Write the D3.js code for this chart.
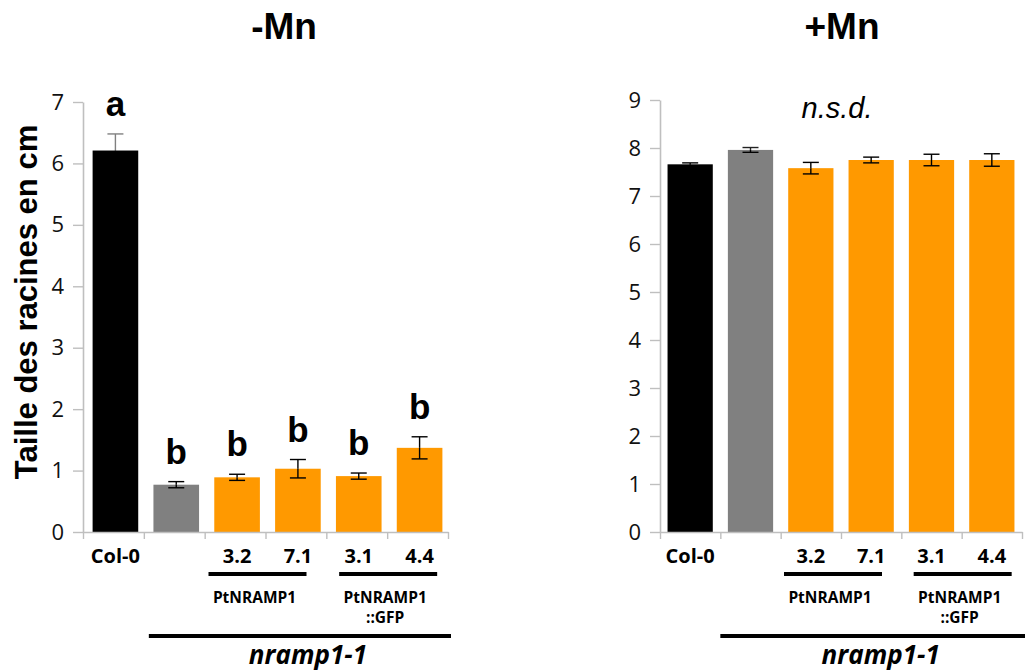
<!DOCTYPE html>
<html>
<head>
<meta charset="utf-8">
<script src="https://cdn.jsdelivr.net/npm/d3@7"></script>
<style>
  html, body { margin: 0; padding: 0; background: #fff; }
  svg { display: block; }
</style>
</head>
<body>
<svg id="chart" width="1032" height="671"></svg>
<script>
// ---------- data ----------
const categories = ["Col-0", "nramp1-1", "3.2", "7.1", "3.1", "4.4"];
const categoryLabels = ["Col-0", "", "3.2", "7.1", "3.1", "4.4"];
const barColors = ["#000000", "#808080", "#FF9900", "#FF9900", "#FF9900", "#FF9900"];

const minusMnMeans = [6.21, 0.77, 0.89, 1.03, 0.91, 1.37];
const minusMnErr   = [0.27, 0.05, 0.05, 0.15, 0.05, 0.18];
const minusMnLetters = ["a", "b", "b", "b", "b", "b"];
const minusMnErrColors = ["#808080", "#000", "#000", "#000", "#000", "#000"];
const minusMnTicks = [0, 1, 2, 3, 4, 5, 6, 7];

const plusMnMeans = [7.66, 7.96, 7.58, 7.75, 7.75, 7.75];
const plusMnErr   = [0.03, 0.05, 0.12, 0.06, 0.12, 0.13];
const plusMnErrColors = ["#000", "#222", "#000", "#000", "#000", "#000"];
const plusMnTicks = [0, 1, 2, 3, 4, 5, 6, 7, 8, 9];

const groupLabels = [
  { lines: ["PtNRAMP1"], cats: ["3.2", "7.1"], shift: -4 },
  { lines: ["PtNRAMP1", "::GFP"], cats: ["3.1", "4.4"], shift: 5 }
];
const mutantLabel = "nramp1-1";
const yTitle = "Taille des racines en cm";

// ---------- drawing ----------
const svg = d3.select("#chart");
svg.append("rect").attr("width", 1032).attr("height", 671).attr("fill", "#fff");

const CAL = "'Open Sans', 'Liberation Sans', sans-serif";
const ARIAL = "'Liberation Sans', Arial, sans-serif";
const axisColor = "#bfbfbf";

function drawPanel(cfg) {
  const g = svg.append("g");
  const y = d3.scaleLinear().domain([0, d3.max(cfg.ticks)]).range([532, cfg.yTop]);
  const x = d3.scaleBand().domain(categories).range(cfg.xRange)
    .paddingInner(0.25).paddingOuter(0.125);
  const bw = x.bandwidth();
  const cx = c => x(c) + bw / 2;

  // y axis
  const yAxis = g.append("g").attr("transform", `translate(${cfg.xRange[0]},0)`)
    .call(d3.axisLeft(y).tickValues(cfg.ticks).tickFormat(d3.format("d"))
      .tickSize(10).tickSizeOuter(0).tickPadding(9));
  yAxis.select(".domain").attr("stroke", axisColor).attr("stroke-width", 1.6);
  yAxis.selectAll(".tick line").attr("stroke", axisColor).attr("stroke-width", 1.4);
  yAxis.selectAll(".tick text").attr("font-family", CAL).attr("font-size", 22)
    .attr("fill", "#111");

  // bars
  const data = categories.map((c, i) => ({ c, v: cfg.means[i], e: cfg.err[i], col: barColors[i], ec: cfg.errColors[i], i }));
  g.selectAll("rect.bar").data(data).join("rect").attr("class", "bar")
    .attr("x", d => x(d.c) + cfg.barShift).attr("width", bw)
    .attr("y", d => y(d.v)).attr("height", d => y(0) - y(d.v))
    .attr("fill", d => d.col);

  // x axis (category boundaries)
  const xb = d3.scaleLinear().domain([0, categories.length]).range(cfg.xRange);
  const xAxis = g.append("g").attr("transform", `translate(0,${y(0)})`)
    .call(d3.axisBottom(xb).tickValues(d3.range(categories.length + 1)).tickFormat("").tickSize(7).tickSizeOuter(0));
  xAxis.select(".domain").attr("stroke", axisColor).attr("stroke-width", 1.6);
  xAxis.selectAll(".tick line").attr("stroke", axisColor).attr("stroke-width", 1.4);

  const bx = c => cx(c) + cfg.barShift;

  // error bars
  const cap = 8;
  const eb = g.selectAll("g.err").data(data).join("g").attr("class", "err")
    .attr("stroke-width", 1.4).attr("fill", "none");
  eb.append("line").attr("x1", d => bx(d.c)).attr("x2", d => bx(d.c))
    .attr("y1", d => y(d.v)).attr("y2", d => y(d.v + d.e)).attr("stroke", d => d.ec);
  eb.append("line").attr("x1", d => bx(d.c) - cap).attr("x2", d => bx(d.c) + cap)
    .attr("y1", d => y(d.v + d.e)).attr("y2", d => y(d.v + d.e)).attr("stroke", d => d.ec);
  eb.append("line").attr("x1", d => bx(d.c)).attr("x2", d => bx(d.c))
    .attr("y1", d => y(d.v)).attr("y2", d => y(d.v - d.e)).attr("stroke", "#000");
  eb.append("line").attr("x1", d => bx(d.c) - cap).attr("x2", d => bx(d.c) + cap)
    .attr("y1", d => y(d.v - d.e)).attr("y2", d => y(d.v - d.e)).attr("stroke", "#000");

  // significance letters
  if (cfg.letters) {
    g.selectAll("text.letter").data(data).join("text").attr("class", "letter")
      .attr("x", d => bx(d.c)).attr("y", d => y(d.v + d.e) - 18)
      .attr("text-anchor", "middle").attr("font-family", ARIAL).attr("font-weight", "bold")
      .attr("font-size", 35).attr("fill", "#000")
      .text((d, i) => cfg.letters[i]);
  }
  if (cfg.note) {
    g.append("text").attr("x", (cfg.xRange[0] + cfg.xRange[1]) / 2 - 4).attr("y", 118)
      .attr("text-anchor", "middle").attr("font-family", ARIAL).attr("font-style", "italic")
      .attr("font-size", 29).attr("fill", "#000").text(cfg.note);
  }

  // title
  g.append("text").attr("x", cfg.titleX).attr("y", 39).attr("text-anchor", "middle")
    .attr("font-family", ARIAL).attr("font-weight", "bold").attr("font-size", 37)
    .attr("fill", "#000").text(cfg.title);

  // category labels
  g.selectAll("text.cat").data(categories).join("text").attr("class", "cat")
    .attr("x", c => bx(c)).attr("y", 563).attr("text-anchor", "middle")
    .attr("font-family", CAL).attr("font-weight", "bold").attr("font-size", 20)
    .attr("fill", "#000").text((c, i) => categoryLabels[i]);

  // group labels
  groupLabels.forEach(gl => {
    const mid = (cx(gl.cats[0]) + cx(gl.cats[1])) / 2 + gl.shift - 4;
    g.append("line").attr("x1", mid - 49).attr("x2", mid + 49)
      .attr("y1", 574).attr("y2", 574).attr("stroke", "#000").attr("stroke-width", 4);
    gl.lines.forEach((t, k) => {
      g.append("text").attr("x", mid - 3).attr("y", 603 + k * 20).attr("text-anchor", "middle")
        .attr("font-family", CAL).attr("font-weight", "bold").attr("font-size", 15.5)
        .attr("fill", "#000").text(t);
    });
  });

  // mutant line
  const mx0 = xb(1) + cfg.mutantStartShift, mx1 = cfg.xRange[1] + 3;
  g.append("line").attr("x1", mx0).attr("x2", mx1).attr("y1", 636).attr("y2", 636)
    .attr("stroke", "#000").attr("stroke-width", 4);
  g.append("text").attr("x", (mx0 + mx1) / 2 + 8).attr("y", 664).attr("text-anchor", "middle")
    .attr("font-family", CAL).attr("font-weight", "bold").attr("font-style", "italic")
    .attr("font-size", 26).attr("fill", "#000").text(mutantLabel);
}

drawPanel({
  xRange: [83, 448], yTop: 102, ticks: minusMnTicks, means: minusMnMeans, err: minusMnErr,
  errColors: minusMnErrColors, letters: minusMnLetters, title: "-Mn", titleX: 284,
  mutantStartShift: 5, barShift: 2
});
drawPanel({
  xRange: [660, 1022], yTop: 100, ticks: plusMnTicks, means: plusMnMeans, err: plusMnErr,
  errColors: plusMnErrColors, note: "n.s.d.", title: "+Mn", titleX: 842,
  mutantStartShift: 0, barShift: 0
});

// y-axis title
svg.append("text").attr("transform", "translate(37,302) rotate(-90)")
  .attr("text-anchor", "middle").attr("font-family", ARIAL).attr("font-weight", "bold")
  .attr("font-size", 31).attr("fill", "#000").text(yTitle);
</script>
</body>
</html>
